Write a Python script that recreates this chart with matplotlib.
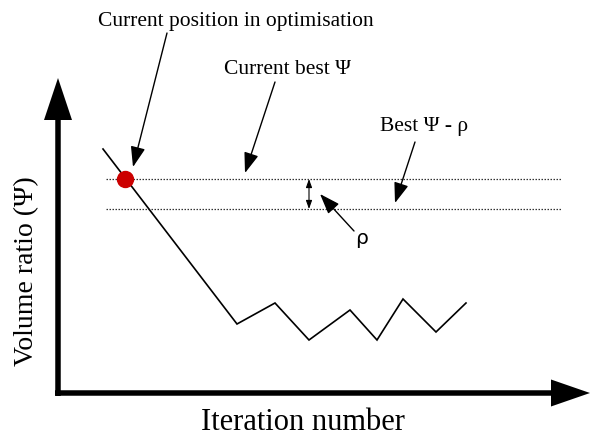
import matplotlib
matplotlib.use("Agg")
import matplotlib.pyplot as plt

# Schematic data (in figure-pixel-like units, y grows downward)
iter_x = [103, 237, 275, 309, 350, 377, 403, 436, 466]
psi_y = [149, 324, 303, 340, 310, 340, 299, 332, 303]
current_x, current_y = 125, 179
best_psi = 179
best_minus_rho = 209
dotted_x = [106, 561]
rho_x = 309

SERIF = ['Liberation Serif', 'DejaVu Serif']
SANS = ['DejaVu Sans']

fig = plt.figure(figsize=(5.9, 4.38), dpi=100)
ax = fig.add_axes([0, 0, 1, 1])
ax.set_xlim(0, 590)
ax.set_ylim(438, 0)
ax.axis('off')

# axes arrows
ax.arrow(58, 396, 0, 78 - 396, width=5.5, head_width=28, head_length=42,
         length_includes_head=True, color='black', lw=0)
ax.arrow(55, 393, 590 - 55, 0, width=5.5, head_width=27, head_length=39,
         length_includes_head=True, color='black', lw=0)

# dotted reference lines
ax.plot(dotted_x, [best_psi, best_psi], color='#333333', lw=0.9, ls=(0, (1.2, 1.2)))
ax.plot(dotted_x, [best_minus_rho, best_minus_rho], color='#333333', lw=0.9, ls=(0, (1.2, 1.2)))

# optimisation trace
ax.plot(iter_x, psi_y, color='black', lw=1.2, solid_joinstyle='miter')
ax.plot([current_x], [current_y], 'o', color='#cc0000', ms=11.5, mec='#cc0000')

# rho double arrow
ax.annotate('', xy=(rho_x, best_psi), xytext=(rho_x, best_minus_rho),
            arrowprops=dict(arrowstyle='<|-|>,head_length=0.5,head_width=0.18',
                            mutation_scale=10, lw=0.8, color='black',
                            shrinkA=0, shrinkB=0))

arrow_kw = dict(arrowstyle='-|>,head_length=1.25,head_width=0.45',
                mutation_scale=10, lw=1.0, color='black', shrinkA=0, shrinkB=0)

ax.annotate('', xy=(133, 167), xytext=(167, 33), arrowprops=arrow_kw)
ax.annotate('', xy=(245, 173), xytext=(275, 82), arrowprops=arrow_kw)
ax.annotate('', xy=(395, 203), xytext=(415, 142), arrowprops=arrow_kw)
ax.annotate('', xy=(320, 194), xytext=(354, 231), arrowprops=arrow_kw)

# labels
ax.text(236, 26, 'Current position in optimisation', family=SERIF, fontsize=15.5,
        ha='center', va='baseline')
ax.text(287, 74, 'Current best Ψ', family=SERIF, fontsize=15.5,
        ha='center', va='baseline')
ax.text(424, 131, 'Best Ψ - ρ', family=SERIF, fontsize=15.5,
        ha='center', va='baseline')
ax.text(362, 238, 'ρ', family=SANS, fontsize=14.5, ha='center', va='center')
ax.text(33, 271, 'Volume ratio (Ψ)', family=SERIF, fontsize=20, rotation=90,
        ha='center', va='baseline', rotation_mode='anchor')
ax.text(303, 437.5, 'Iteration number', family=SERIF, fontsize=22,
        ha='center', va='bottom')

fig.savefig('out.png', dpi=100, facecolor='white')
